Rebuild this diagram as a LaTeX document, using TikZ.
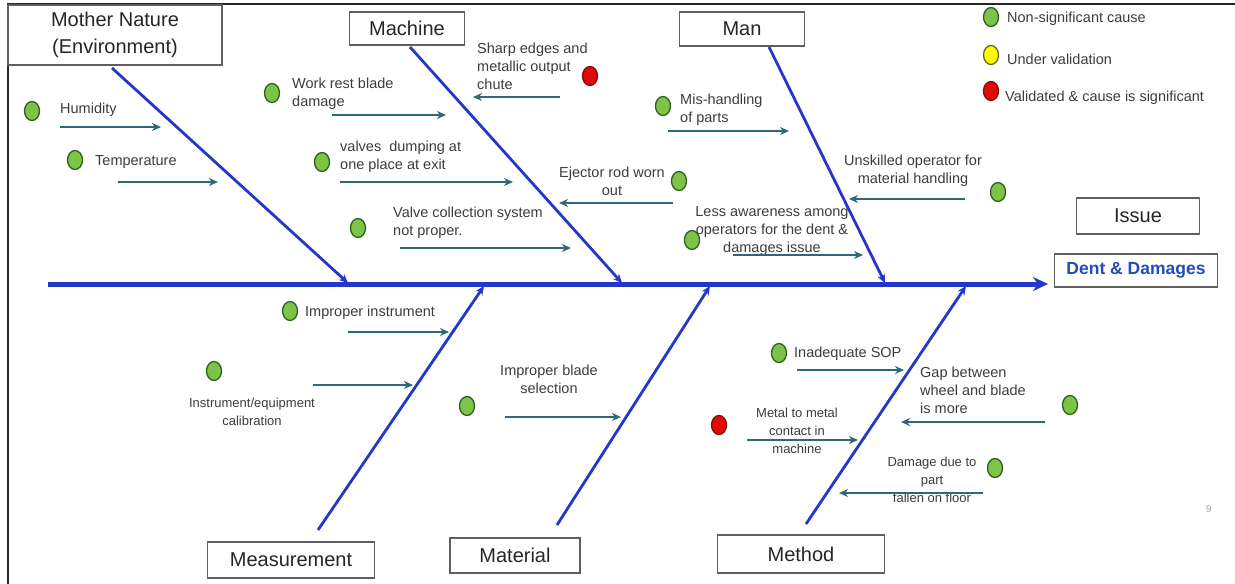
\documentclass[tikz,border=0pt]{standalone}
\usepackage{fontspec}
\setmainfont{Liberation Sans}
\usetikzlibrary{arrows.meta,shapes.geometric}

\definecolor{bonec}{RGB}{35,55,200}
\definecolor{causec}{RGB}{45,105,125}
\definecolor{txtc}{RGB}{60,60,60}
\definecolor{boxc}{RGB}{95,95,95}
\definecolor{effc}{RGB}{35,75,190}
\definecolor{gfill}{RGB}{125,195,70}
\definecolor{gline}{RGB}{45,95,35}
\definecolor{rfill}{RGB}{225,10,10}
\definecolor{rline}{RGB}{130,10,10}
\definecolor{yfill}{RGB}{255,250,0}
\definecolor{yline}{RGB}{110,100,20}

\begin{document}
\begin{tikzpicture}[x=1pt,y=-1pt,
  catbox/.style={draw=boxc, line width=1.3pt, fill=white, text=black!85,
    font=\fontsize{20}{27}\selectfont, inner sep=0pt, align=center},
  bone/.style={draw=bonec, line width=2.8pt, -{Stealth[length=9pt,width=8pt]}},
  spine/.style={draw=bonec, line width=5pt, -{Stealth[length=15pt,width=14pt]}},
  cause/.style={draw=causec, line width=2.3pt, -{Stealth[length=9pt,width=8pt]}},
  ctext/.style={text=txtc, font=\fontsize{14.5}{18}\selectfont, inner sep=0pt},
  stext/.style={text=txtc, font=\fontsize{13}{18}\selectfont, inner sep=0pt},
  dotbase/.style={ellipse, line width=1.3pt, minimum width=15pt, minimum height=19pt, inner sep=0pt},
  gdot/.style={dotbase, draw=gline, fill=gfill},
  rdot/.style={dotbase, draw=rline, fill=rfill},
  ydot/.style={dotbase, draw=yline, fill=yfill}
]
\useasboundingbox (0,0) rectangle (1235,584);

% frame
\draw[line width=2pt, black!85] (8,584) -- (8,4) -- (1235,4);

% category boxes and effect
\node[catbox, minimum width=214pt, minimum height=60pt] (mn) at (115,35) {Mother Nature\\(Environment)};
\node[catbox, minimum width=115pt, minimum height=33pt] (mac) at (407,28.5) {Machine};
\node[catbox, minimum width=125pt, minimum height=34pt] (man) at (742,29) {Man};
\node[catbox, minimum width=123pt, minimum height=36pt] (iss) at (1138,216) {Issue};
\node[catbox, minimum width=163pt, minimum height=33pt, text=effc,
      font=\bfseries\fontsize{17.5}{20}\selectfont] (eff) at (1136,270.5) {Dent \& Damages};
\node[catbox, minimum width=167pt, minimum height=36pt] (mea) at (291,560) {Measurement};
\node[catbox, minimum width=130pt, minimum height=35pt] (mat) at (515,555.5) {Material};
\node[catbox, minimum width=167pt, minimum height=38pt] (met) at (801,554) {Method};

% spine
\coordinate (sp0) at (48,284);
\coordinate (sp1) at (1048,284);
\draw[spine] (sp0) -- (sp1);

% bones
\coordinate (mnA) at (112,68);   \coordinate (mnB) at (348,283);
\coordinate (macA) at (410,47);  \coordinate (macB) at (622,283);
\coordinate (manA) at (769,47);  \coordinate (manB) at (885,283);
\coordinate (meaA) at (318,530); \coordinate (meaB) at (484,286);
\coordinate (matA) at (557,525); \coordinate (matB) at (710,286);
\coordinate (metA) at (806,524); \coordinate (metB) at (966,286);
\draw[bone] (mnA) -- (mnB);
\draw[bone] (macA) -- (macB);
\draw[bone] (manA) -- (manB);
\draw[bone] (meaA) -- (meaB);
\draw[bone] (matA) -- (matB);
\draw[bone] (metA) -- (metB);

% ---- Mother Nature causes
\node[gdot] (d1) at (32,111) {};
\node[ctext, anchor=west] (t1) at (60,110) {Humidity};
\coordinate (a1) at (60,127); \coordinate (b1) at (161,127);
\draw[cause] (a1) -- (b1);

\node[gdot] (d2) at (75,160) {};
\node[ctext, anchor=west] (t2) at (95,162) {Temperature};
\coordinate (a2) at (118,182); \coordinate (b2) at (218,182);
\draw[cause] (a2) -- (b2);

% ---- Machine causes
\node[gdot] (d3) at (272,93) {};
\node[ctext, anchor=west, align=left] (t3) at (292,94) {Work rest blade\\damage};
\coordinate (a3) at (332,115); \coordinate (b3) at (446,115);
\draw[cause] (a3) -- (b3);

\node[gdot] (d4) at (322,162) {};
\node[ctext, anchor=west, align=left] (t4) at (340,157) {valves\ \ dumping at\\one place at exit};
\coordinate (a4) at (340,182); \coordinate (b4) at (513,182);
\draw[cause] (a4) -- (b4);

\node[gdot] (d5) at (358,228) {};
\node[ctext, anchor=west, align=left] (t5) at (393,223) {Valve collection system\\not proper.};
\coordinate (a5) at (400,248); \coordinate (b5) at (571,248);
\draw[cause] (a5) -- (b5);

\node[rdot] (d6) at (590,76) {};
\node[ctext, anchor=west, align=left] (t6) at (477,66) {Sharp edges and\\metallic output\\chute};
\coordinate (a6) at (560,97); \coordinate (b6) at (473,97);
\draw[cause] (a6) -- (b6);

\node[gdot] (d7) at (679,181) {};
\node[ctext, align=center] (t7) at (612,181) {Ejector rod worn\\out};
\coordinate (a7) at (673,203); \coordinate (b7) at (559,203);
\draw[cause] (a7) -- (b7);

% ---- Man causes
\node[gdot] (d8) at (663,106) {};
\node[ctext, anchor=west, align=left] (t8) at (680,110) {Mis-handling\\of parts};
\coordinate (a8) at (668,131); \coordinate (b8) at (789,131);
\draw[cause] (a8) -- (b8);

\node[gdot] (d9) at (998,192) {};
\node[ctext, align=center] (t9) at (913,171) {Unskilled operator for\\material handling};
\coordinate (a9) at (965,199); \coordinate (b9) at (849,199);
\draw[cause] (a9) -- (b9);

\node[gdot] (d10) at (692,240) {};
\node[ctext, align=center] (t10) at (772,231) {Less awareness among\\operators for the dent \&\\damages issue};
\coordinate (a10) at (733,255); \coordinate (b10) at (863,255);
\draw[cause] (a10) -- (b10);

% ---- Measurement causes
\node[gdot] (d11) at (290,311) {};
\node[ctext, anchor=west] (t11) at (305,313) {Improper instrument};
\coordinate (a11) at (348,332); \coordinate (b11) at (449,332);
\draw[cause] (a11) -- (b11);

\node[gdot] (d12) at (214,371) {};
\node[stext, align=center] (t12) at (252,412) {Instrument/equipment\\calibration};
\coordinate (a12) at (313,385); \coordinate (b12) at (413,385);
\draw[cause] (a12) -- (b12);

% ---- Material causes
\node[gdot] (d13) at (467,406) {};
\node[ctext, align=center] (t13) at (549,379) {Improper blade\\selection};
\coordinate (a13) at (505,417); \coordinate (b13) at (621,417);
\draw[cause] (a13) -- (b13);

% ---- Method causes
\node[gdot] (d14) at (779,353) {};
\node[ctext, anchor=west] (t14) at (794,354) {Inadequate SOP};
\coordinate (a14) at (797,370); \coordinate (b14) at (904,370);
\draw[cause] (a14) -- (b14);

\node[gdot] (d15) at (1070,405) {};
\node[ctext, anchor=west, align=left] (t15) at (920,390) {Gap between\\wheel and blade\\is more};
\coordinate (a15) at (1045,422); \coordinate (b15) at (901,422);
\draw[cause] (a15) -- (b15);

\node[rdot] (d16) at (719,425) {};
\node[stext, align=center] (t16) at (797,431) {Metal to metal\\contact in\\machine};
\coordinate (a16) at (747,440); \coordinate (b16) at (858,440);
\draw[cause] (a16) -- (b16);

\node[gdot] (d17) at (995,468) {};
\node[stext, align=center] (t17) at (932,480) {Damage due to\\part\\fallen on floor};
\coordinate (a17) at (983,493); \coordinate (b17) at (839,493);
\draw[cause] (a17) -- (b17);

% ---- legend
\node[gdot] (lg) at (991,17) {};
\node[ctext, anchor=west] (lgt) at (1007,19) {Non-significant cause};
\node[ydot] (ly) at (991,55) {};
\node[ctext, anchor=west] (lyt) at (1007,59) {Under validation};
\node[rdot] (lr) at (991,91) {};
\node[ctext, anchor=west] (lrt) at (1005,98) {Validated \& cause is significant};

% page number
\node[text=black!35, font=\fontsize{10}{11}\selectfont, inner sep=0pt] (pg) at (1209,509) {9};
\end{tikzpicture}
\end{document}
